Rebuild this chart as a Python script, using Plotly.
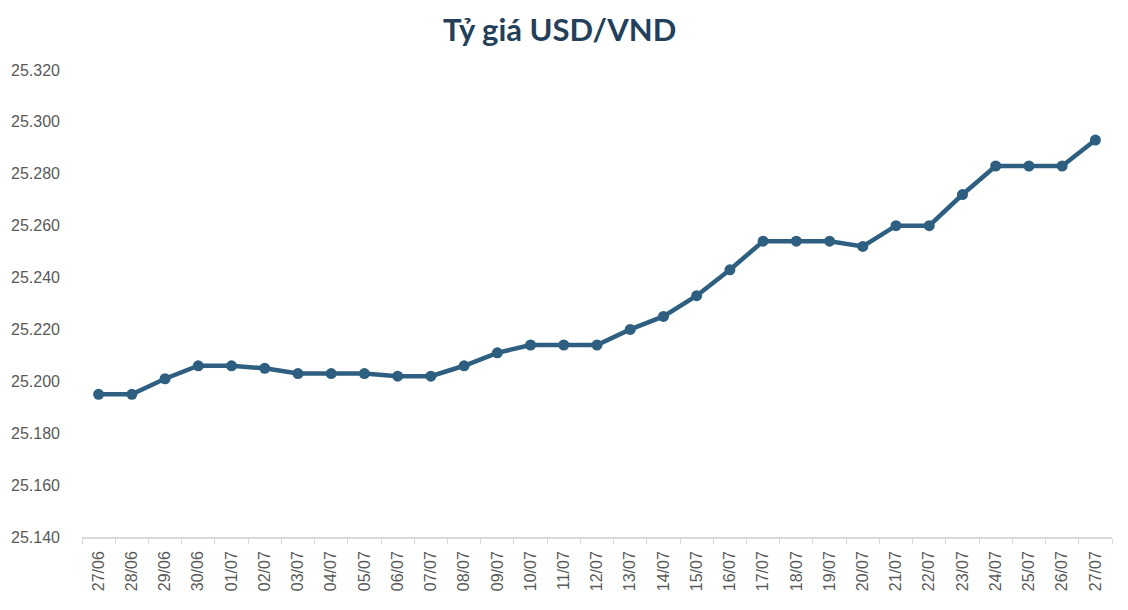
import plotly.graph_objects as go

# Ngày và tỷ giá trung tâm USD/VND
dates = ["27/06", "28/06", "29/06", "30/06", "01/07", "02/07", "03/07", "04/07",
         "05/07", "06/07", "07/07", "08/07", "09/07", "10/07", "11/07", "12/07",
         "13/07", "14/07", "15/07", "16/07", "17/07", "18/07", "19/07", "20/07",
         "21/07", "22/07", "23/07", "24/07", "25/07", "26/07", "27/07"]
rates = [25195, 25195, 25201, 25206, 25206, 25205, 25203, 25203,
         25203, 25202, 25202, 25206, 25211, 25214, 25214, 25214,
         25220, 25225, 25233, 25243, 25254, 25254, 25254, 25252,
         25260, 25260, 25272, 25283, 25283, 25283, 25293]

y_ticks = [25140, 25160, 25180, 25200, 25220, 25240, 25260, 25280, 25300, 25320]

line_color = "#2e5f80"

fig = go.Figure()
fig.add_trace(go.Scatter(
    x=dates, y=rates, mode="lines+markers",
    line=dict(color=line_color, width=4.5),
    marker=dict(color=line_color, size=11),
    showlegend=False,
))

# the page adds an 8px body margin, margins below allow for it
fig.update_layout(
    width=1128, height=610,
    margin=dict(l=74, r=24, t=62, b=81),
    paper_bgcolor="white", plot_bgcolor="white",
    separators=",.",
    title=dict(text="<b>Tỷ giá USD/VND</b>", x=0.489, xanchor="center", y=0.964, yanchor="middle",
               font=dict(family="Lato", size=31, color="#243f5a")),
    font=dict(family="Liberation Sans", size=16, color="#595959"),
)

fig.update_xaxes(
    type="category", tickangle=-90, range=[-0.5, len(dates) - 0.5],
    showline=True, linecolor="#d9d9d9", linewidth=1.5,
    ticks="outside", tickson="boundaries", ticklen=5, tickcolor="#d9d9d9",
    showgrid=False, zeroline=False, ticklabelstandoff=6, automargin=False,
)
fig.update_yaxes(
    range=[25140, 25320], tickvals=y_ticks, tickformat=",d",
    showgrid=False, zeroline=False, showline=False,
    ticklabelstandoff=21, automargin=False,
)

fig.write_html("out.html")
